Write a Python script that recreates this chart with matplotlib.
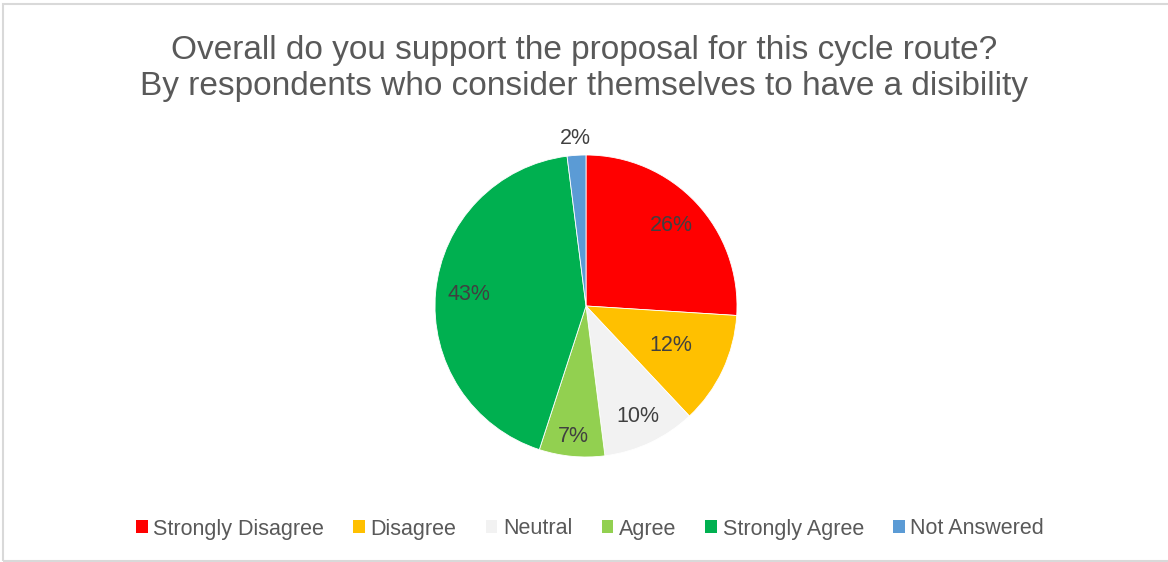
import matplotlib.pyplot as plt
import numpy as np
from matplotlib.patches import Rectangle

plt.rcParams['font.family'] = ['Liberation Sans', 'DejaVu Sans']

labels = ['Strongly Disagree', 'Disagree', 'Neutral', 'Agree', 'Strongly Agree', 'Not Answered']
values = [26, 12, 10, 7, 43, 2]
colors = ['#ff0000', '#ffc000', '#f2f2f2', '#92d050', '#00b050', '#5b9bd5']
# how far out each percentage label sits (fraction of radius)
label_r = [0.78, 0.62, 0.81, 0.87, 0.78, 1.11]

fig = plt.figure(figsize=(11.68, 5.62), dpi=100)
fig.patches.append(Rectangle((3 / 1168, 1 - 561 / 562), 1.1, (561 - 4) / 562,
                             transform=fig.transFigure, fill=False,
                             edgecolor='#d9d9d9', linewidth=1.5))

fig.text(0.5, 1 - 50 / 562, 'Overall do you support the proposal for this cycle route?',
         ha='center', va='center', fontsize=24, color='#595959')
fig.text(0.5, 1 - 87 / 562, 'By respondents who consider themselves to have a disibility',
         ha='center', va='center', fontsize=24, color='#595959')

r_px = 151
cx, cy = 586, 306
ax = fig.add_axes([(cx - r_px) / 1168, 1 - (cy + r_px) / 562, 2 * r_px / 1168, 2 * r_px / 562])
wedges, _ = ax.pie(values, colors=colors, startangle=90, counterclock=False,
                   wedgeprops=dict(linewidth=0.6, edgecolor='white'))
ax.set_aspect('auto')
ax.set_xlim(-1, 1)
ax.set_ylim(-1, 1)

for w, v, rr in zip(wedges, values, label_r):
    ang = np.deg2rad((w.theta1 + w.theta2) / 2)
    ax.text(rr * np.cos(ang), rr * np.sin(ang), f'{v}%', ha='center', va='center',
            fontsize=15.5, color='#404040')

handles = [Rectangle((0, 0), 1, 1, facecolor=c, edgecolor='none') for c in colors]
fig.legend(handles, labels, loc='center', bbox_to_anchor=(590 / 1168, 1 - 529 / 562), ncol=6,
           frameon=False, fontsize=15.5, labelcolor='#595959', handlelength=0.55,
           handleheight=0.55, handletextpad=0.25, columnspacing=1.36)

fig.savefig('out.png', dpi=100)
